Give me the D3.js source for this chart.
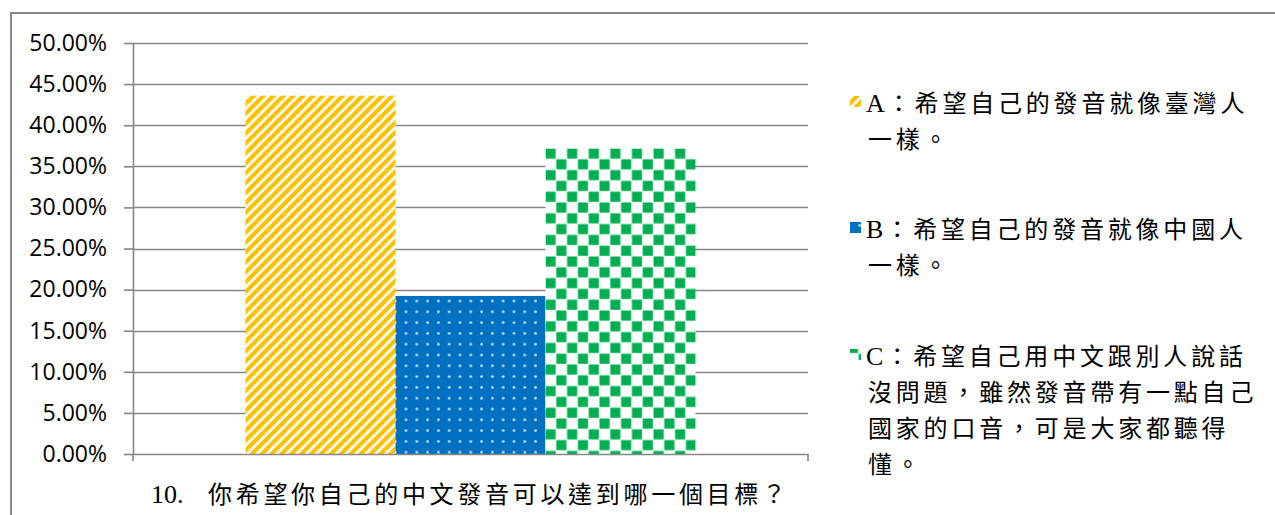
<!DOCTYPE html>
<html><head><meta charset="utf-8">
<script src="https://cdn.jsdelivr.net/npm/d3@7"></script>
<style>
html,body{margin:0;padding:0;background:#fff;}
svg{display:block;}
</style></head>
<body>
<svg id="chart" width="1275" height="515"></svg>
<script>
const categories = ["10. 你希望你自己的中文發音可以達到哪一個目標？"];
const seriesNames = ["A", "B", "C"];
const seriesValues = [0.4359, 0.1923, 0.3718];
const legendLines = [
  ["A：希望自己的發音就像臺灣人", "一樣。"],
  ["B：希望自己的發音就像中國人", "一樣。"],
  ["C：希望自己用中文跟別人說話", "沒問題，雖然發音帶有一點自己", "國家的口音，可是大家都聽得", "懂。"]
];
const yTicks = [0, 0.05, 0.10, 0.15, 0.20, 0.25, 0.30, 0.35, 0.40, 0.45, 0.50];

const svg = d3.select("#chart");
const W = 1275, H = 515;
const plot = {left: 133, right: 808, top: 43, bottom: 454};
const serif = "'Liberation Serif','Noto Sans CJK TC',serif";
const sans = "'Open Sans','Noto Sans',sans-serif";
const gridColor = "#868686";

// patterns
const defs = svg.append("defs");
const pA = defs.append("pattern").attr("id","patA").attr("patternUnits","userSpaceOnUse")
  .attr("width",7).attr("height",7).attr("patternTransform","rotate(45)");
pA.append("rect").attr("width",7).attr("height",7).attr("fill","#fff");
pA.append("rect").attr("width",4.2).attr("height",7).attr("fill","#FFC000");

const pB = defs.append("pattern").attr("id","patB").attr("patternUnits","userSpaceOnUse")
  .attr("width",10.8).attr("height",10.8).attr("x",1).attr("y",4);
pB.append("rect").attr("width",10.8).attr("height",10.8).attr("fill","#0070C0");
pB.append("circle").attr("cx",5.4).attr("cy",5.4).attr("r",1.3).attr("fill","#e6f0ff");

const pC = defs.append("pattern").attr("id","patC").attr("patternUnits","userSpaceOnUse")
  .attr("width",21.6).attr("height",21.6).attr("x",545).attr("y",148);
pC.append("rect").attr("width",21.6).attr("height",21.6).attr("fill","#fff");
pC.append("rect").attr("x",0.5).attr("y",0.5).attr("width",10.1).attr("height",10.1).attr("fill","#00B050");
pC.append("rect").attr("x",11.3).attr("y",11.3).attr("width",10.1).attr("height",10.1).attr("fill","#00B050");
const fills = {A:"url(#patA)", B:"url(#patB)", C:"url(#patC)"};

// outer border
svg.append("rect").attr("x",11).attr("y",13).attr("width",W).attr("height",H)
  .attr("fill","none").attr("stroke","#8a8a8a").attr("stroke-width",2);

// scales
const y = d3.scaleLinear().domain([0,0.5]).range([plot.bottom, plot.top]);
const x0 = d3.scaleBand().domain(categories).range([plot.left, plot.right]).paddingInner(0.2).paddingOuter(0.2);
const x1 = d3.scaleBand().domain(seriesNames).range([0, x0.bandwidth()]).padding(0);

// gridlines
svg.append("g").selectAll("line").data(yTicks.filter(d=>d>0)).join("line")
  .attr("x1",plot.left).attr("x2",plot.right)
  .attr("y1",d=>Math.round(y(d))+0.5).attr("y2",d=>Math.round(y(d))+0.5)
  .attr("stroke",gridColor).attr("stroke-width",1.6);

// y axis
const yAxis = d3.axisLeft(y).tickValues(yTicks).tickFormat(d3.format(".2%")).tickSizeInner(9).tickSizeOuter(0).tickPadding(17);
const gy = svg.append("g").attr("transform",`translate(${plot.left},0)`).call(yAxis);
gy.select(".domain").attr("stroke",gridColor).attr("stroke-width",1.6);
gy.selectAll(".tick line").attr("stroke",gridColor).attr("stroke-width",1.6);
gy.selectAll(".tick text").attr("font-family",sans).attr("font-size",23).attr("fill","#000");

// bars
const bars = svg.append("g");
seriesNames.forEach((s,i)=>{
  bars.append("rect")
    .attr("x", x0(categories[0]) + x1(s))
    .attr("y", y(seriesValues[i]))
    .attr("width", x1.bandwidth())
    .attr("height", y(0) - y(seriesValues[i]))
    .attr("fill", fills[s]);
});

// x axis
const xAxis = d3.axisBottom(x0).tickSize(0).tickFormat("");
const gx = svg.append("g").attr("transform",`translate(0,${plot.bottom})`).call(xAxis);
gx.select(".domain").attr("stroke",gridColor).attr("stroke-width",1.6);
[plot.left, plot.right].forEach(px=>{
  gx.append("line").attr("x1",px).attr("x2",px).attr("y1",0).attr("y2",7).attr("stroke",gridColor).attr("stroke-width",1.6);
});
// split label into latin prefix and CJK part
const catLabel = categories[0];
const sp = catLabel.indexOf(" ");
const xt = svg.append("text").attr("y", 503)
  .attr("font-family",serif).attr("font-size",24).attr("fill","#000");
xt.append("tspan").attr("x", 151).attr("font-size",26).text(catLabel.slice(0, sp));
xt.append("tspan").attr("x", 208).attr("textLength", 578).attr("lengthAdjust","spacing")
  .text(catLabel.slice(sp+1));

// legend
const legendTop = [103, 229, 356];
const lineH = 36;
const lg = svg.append("g");
seriesNames.forEach((s,i)=>{
  lg.append("rect").attr("x",850).attr("y",legendTop[i]-7).attr("width",11).attr("height",11).attr("fill",fills[s]);
  const t = lg.append("text").attr("font-family",serif).attr("font-size",24)
    .attr("letter-spacing","3.8px").attr("fill","#000");
  legendLines[i].forEach((ln,j)=>{
    const tsp = t.append("tspan").attr("x", j===0 ? 866 : 868).attr("y", legendTop[i] + 9 + j*lineH);
    if (j===0) {
      tsp.append("tspan").attr("font-size",26).attr("letter-spacing","0px").text(ln.slice(0,1));
      tsp.append("tspan").attr("dx",2).text(ln.slice(1));
    } else {
      tsp.text(ln);
    }
  });
});
</script>
</body></html>
